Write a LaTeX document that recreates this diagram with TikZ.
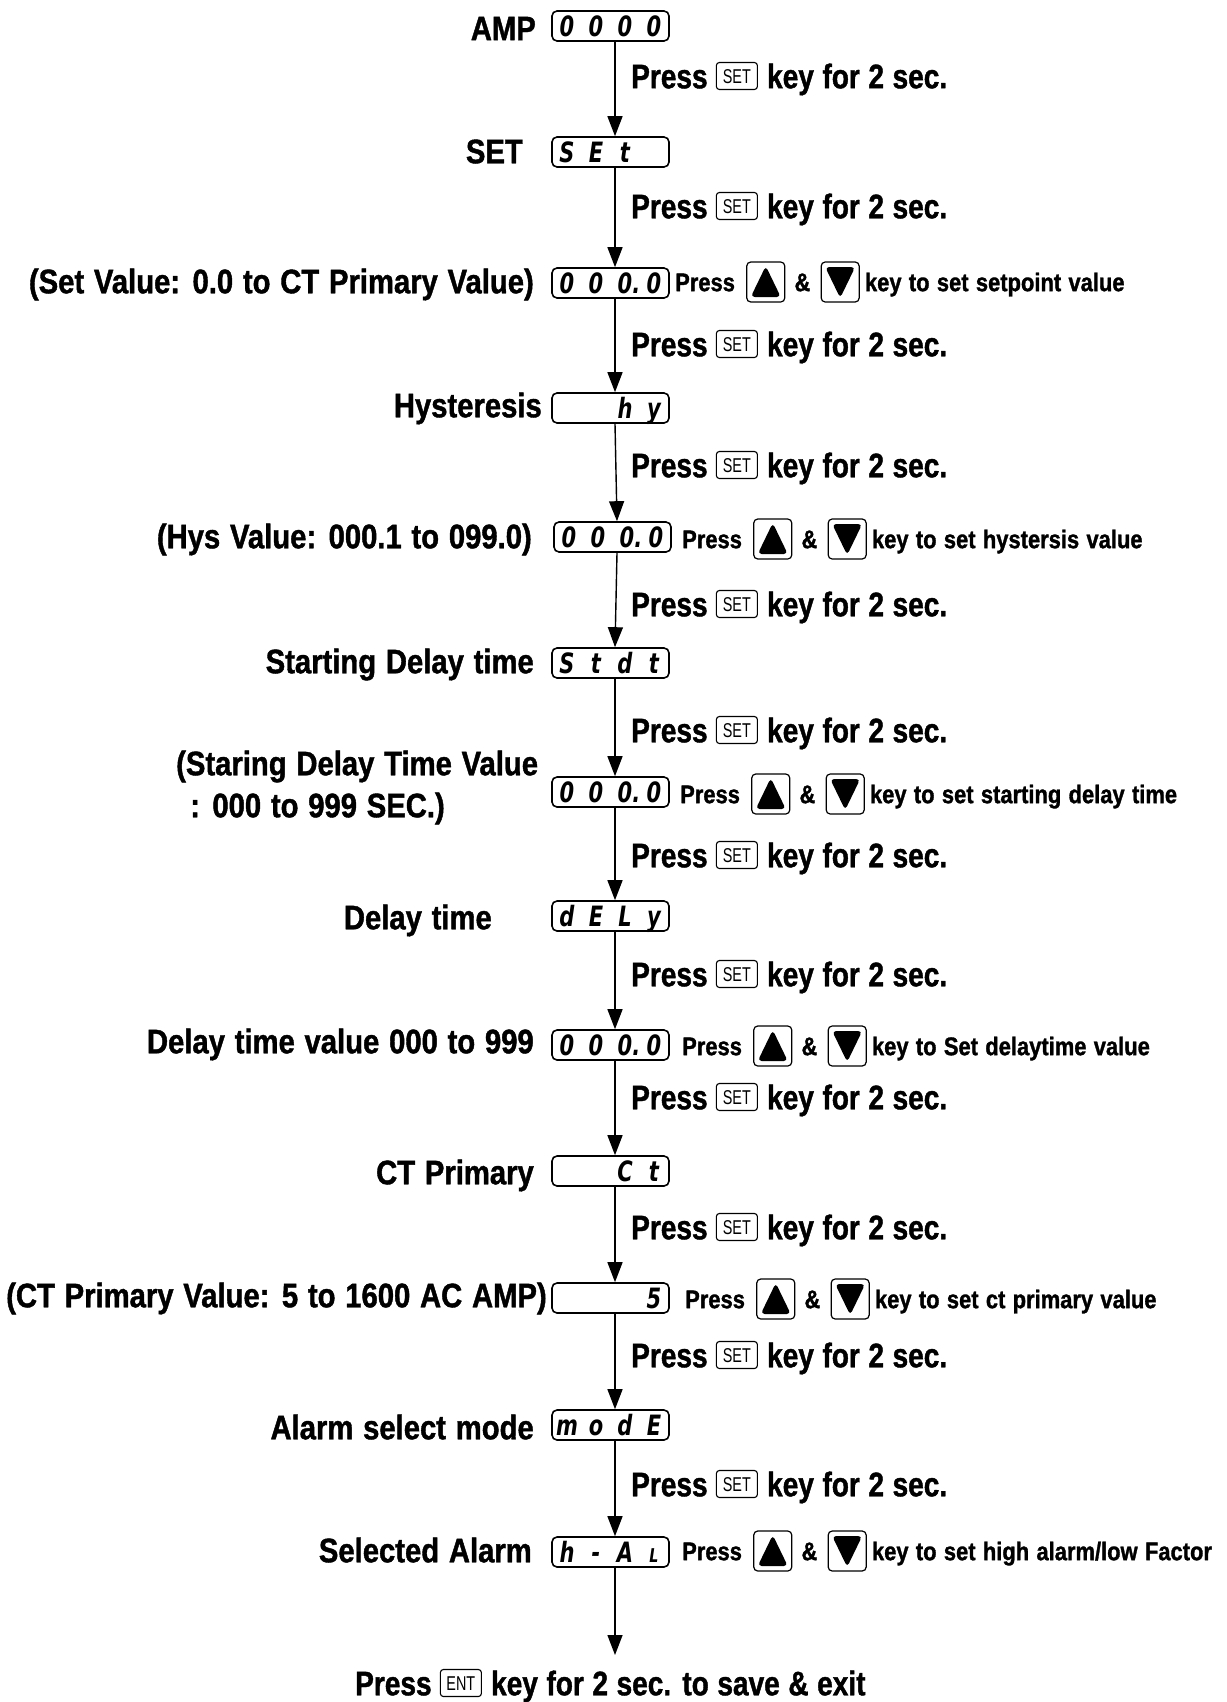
\documentclass[tikz,border=0pt]{standalone}
\usepackage{fontspec}
\setmainfont{Liberation Sans}[FakeStretch=0.86, WordSpace=1.2, BoldFeatures={FakeBold=1.2}]
\newfontfamily\pressfont{Liberation Sans}[FakeStretch=0.825, WordSpace=1.1, BoldFeatures={FakeBold=1.2}]
\newfontfamily\segfont{DejaVu Sans}[ItalicFont={* Oblique},BoldItalicFont={* Bold Oblique},FakeStretch=0.75]
\newfontfamily\keyfont{Liberation Sans}[FakeStretch=0.72]
\usetikzlibrary{arrows.meta,positioning}
\newcommand\C[1]{\makebox[29pt][c]{#1}}
\newcommand\smallL{\makebox[29pt][c]{\fontsize{19}{19}\selectfont L}}
\begin{document}
\begin{tikzpicture}[x=1pt,y=-1pt,
  big/.style={font=\bfseries\fontsize{34}{40}\selectfont, inner sep=0pt, text height=24.5pt, text depth=0pt},
  press/.style={font=\pressfont\bfseries\fontsize{34}{40}\selectfont, inner sep=0pt, text height=24.5pt, text depth=0pt},
  small/.style={font=\bfseries\fontsize{25.5}{30}\selectfont, inner sep=0pt, text height=18.3pt, text depth=0pt},
  disp/.style={draw, line width=1.6pt, rounded corners=5pt, minimum width=117pt, minimum height=30pt, inner sep=0pt, text height=20.4pt, text depth=0pt, font=\segfont\bfseries\itshape\fontsize{28}{28}\selectfont},
  keybox/.style={draw, line width=1.1pt, rounded corners=3pt, minimum width=41pt, minimum height=27pt, inner sep=0pt, text height=14.4pt, text depth=0pt, font=\keyfont\fontsize{20}{20}\selectfont},
  arrowkey/.style={draw, line width=1.2pt, rounded corners=4pt, minimum width=38pt, minimum height=40pt, inner sep=0pt},
  upkey/.style={arrowkey, path picture={\fill ([shift={(0pt,16pt)}]path picture bounding box.center) -- ([shift={(15pt,-15pt)}]path picture bounding box.center) -- ([shift={(-15pt,-15pt)}]path picture bounding box.center) -- cycle;}},
  downkey/.style={arrowkey, path picture={\fill ([shift={(0pt,-16pt)}]path picture bounding box.center) -- ([shift={(15pt,15pt)}]path picture bounding box.center) -- ([shift={(-15pt,15pt)}]path picture bounding box.center) -- cycle;}},
  conn/.style={line width=1.4pt, -{Triangle[length=20pt,width=15pt]}}
]
\path[use as bounding box, fill=white] (0,0) rectangle (1226,1702);

% displays
\node[disp] (d1) at (610.5,26) {\C{0}\C{0}\C{0}\C{0}};
\node[disp] (d2) at (610.5,152) {\C{S}\C{E}\C{t}\C{}};
\node[disp] (d3) at (610.5,283) {\C{0}\C{0}\C{0\rlap{.}}\C{0}};
\node[disp] (d4) at (610.5,408) {\C{}\C{}\C{h}\C{y}};
\node[disp] (d5) at (612.5,537) {\C{0}\C{0}\C{0\rlap{.}}\C{0}};
\node[disp] (d6) at (610.5,663) {\C{S}\C{t}\C{d}\C{t}};
\node[disp] (d7) at (610.5,792) {\C{0}\C{0}\C{0\rlap{.}}\C{0}};
\node[disp] (d8) at (610.5,916) {\C{d}\C{E}\C{L}\C{y}};
\node[disp] (d9) at (610.5,1045) {\C{0}\C{0}\C{0\rlap{.}}\C{0}};
\node[disp] (d10) at (610.5,1171) {\C{}\C{}\C{C}\C{t}};
\node[disp] (d11) at (610.5,1298) {\C{}\C{}\C{}\C{5}};
\node[disp] (d12) at (610.5,1425) {\C{m}\C{o}\C{d}\C{E}};
\node[disp] (d13) at (610.5,1552) {\C{h}\C{-}\C{A}\smallL};

% connectors
\foreach \a/\b in {1/2,2/3,3/4,4/5,5/6,6/7,7/8,8/9,9/10,10/11,11/12,12/13}{
  \draw[conn] ([xshift=4.5pt]d\a.south) -- ([xshift=4.5pt]d\b.north);
}
\coordinate (endpt) at (615,1655);
\draw[conn] ([xshift=4.5pt]d13.south) -- (endpt);

% left labels
\node[big, anchor=east] (l1) at (536,28) {AMP};
\node[big, anchor=east] (l2) at (523,151) {SET};
\node[big, anchor=east] (l3) at (534,281) {(Set Value: 0.0 to CT Primary Value)};
\node[big, anchor=east] (l4) at (542,405) {Hysteresis};
\node[big, anchor=east] (l5) at (532,536) {(Hys Value: 000.1 to 099.0)};
\node[big, anchor=east] (l6) at (534,661) {Starting Delay time};
\node[big, anchor=west] (l7a) at (176,763) {(Staring Delay Time Value};
\node[big, anchor=west] (l7b) at (190,805) {: 000 to 999 SEC.)};
\node[big, anchor=east] (l8) at (492,917) {Delay time};
\node[big, anchor=east] (l9) at (534,1041) {Delay time value 000 to 999};
\node[big, anchor=east] (l10) at (534,1172) {CT Primary};
\node[big, anchor=east] (l11) at (547,1295) {(CT Primary Value: 5 to 1600 AC AMP)};
\node[big, anchor=east] (l12) at (534,1427) {Alarm select mode};
\node[big, anchor=east] (l13) at (532,1550) {Selected Alarm};

% press SET labels
\foreach \i/\yy in {1/76,2/206,3/344,4/465,5/604,6/730,7/855,8/974,9/1097,10/1227,11/1355,12/1484}{
  \node[press, anchor=west] (pa\i) at (631,\yy) {Press};
  \node[keybox, right=8pt of pa\i] (pk\i) {SET};
  \node[press, right=9pt of pk\i] (pt\i) {key for 2 sec.};
}

% arrow key rows
\foreach \i/\xx/\yy/\txt in {3/675/282/{key to set setpoint value},5/682/539/{key to set hystersis value},7/680/794/{key to set starting delay time},9/682/1046/{key to Set delaytime value},11/685/1299/{key to set ct primary value},13/682/1551/{key to set high alarm/low Factor}}{
  \node[small, anchor=west] (sa\i) at (\xx,\yy) {Press};
  \node[upkey, right=11pt of sa\i] (su\i) {};
  \node[small, right=9pt of su\i] (sn\i) {\&};
  \node[downkey, right=10pt of sn\i] (sd\i) {};
  \node[small, right=5pt of sd\i] (st\i) {\txt};
}

% final
\node[press, anchor=west] (fa) at (355,1683) {Press};
\node[keybox, right=8pt of fa] (fk) {ENT};
\node[press, right=9pt of fk] (ft) {key for 2 sec. to save \& exit};
\end{tikzpicture}
\end{document}
